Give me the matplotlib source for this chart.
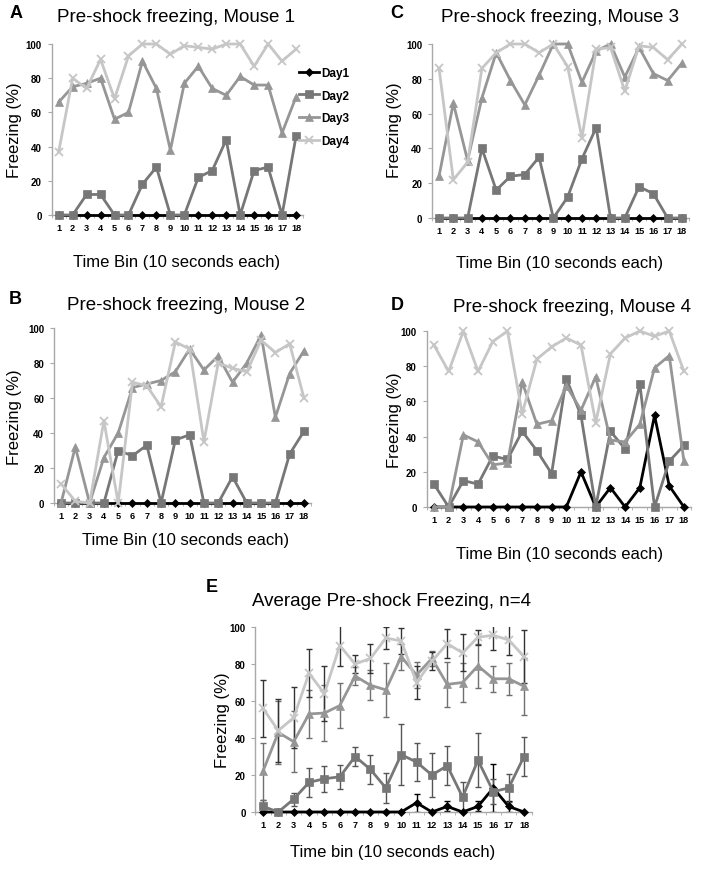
import matplotlib
matplotlib.use("Agg")
import matplotlib.pyplot as plt
from matplotlib import font_manager

# ---------------- data ----------------
bins = list(range(1, 19))
tick_labels = [str(b) for b in bins]
series_names = ["Day1", "Day2", "Day3", "Day4"]

# Mouse 1 (panel A)
m1_day1 = [0] * 18
m1_day2 = [0, 0, 12, 12, 0, 0, 18, 28, 0, 0, 22, 26, 44, 0, 26, 28, 0, 46]
m1_day3 = [66, 75, 77, 80, 56, 60, 90, 74, 38, 77, 87, 74, 70, 81, 76, 76, 48, 69]
m1_day4 = [37, 80, 74, 91, 68, 93, 100, 100, 94, 99, 98, 97, 100, 100, 87, 100, 90, 97]

# Mouse 2 (panel B)
m2_day1 = [0] * 18
m2_day2 = [0, 0, 0, 0, 30, 27, 33, 0, 36, 39, 0, 0, 15, 0, 0, 0, 28, 41]
m2_day3 = [0, 32, 0, 26, 40, 66, 68, 70, 75, 88, 76, 84, 69, 80, 96, 49, 74, 87]
m2_day4 = [11, 1, 0, 47, 0, 69, 67, 55, 92, 88, 35, 80, 77, 75, 93, 86, 91, 60]

# Mouse 3 (panel C)
m3_day1 = [0] * 18
m3_day2 = [0, 0, 0, 40, 16, 24, 25, 35, 0, 12, 34, 52, 0, 0, 18, 14, 0, 0]
m3_day3 = [24, 66, 33, 69, 95, 79, 65, 82, 100, 100, 78, 96, 100, 81, 98, 83, 79, 89]
m3_day4 = [86, 22, 32, 86, 95, 100, 100, 95, 100, 87, 46, 97, 98, 73, 99, 98, 91, 100]

# Mouse 4 (panel D)
m4_day1 = [0, 0, 0, 0, 0, 0, 0, 0, 0, 0, 20, 0, 11, 0, 11, 52, 12, 0]
m4_day2 = [13, 0, 15, 13, 29, 27, 43, 32, 19, 73, 52, 0, 43, 33, 70, 0, 26, 35]
m4_day3 = [0, 0, 41, 37, 24, 25, 71, 47, 49, 69, 55, 74, 38, 37, 47, 79, 86, 26]
m4_day4 = [92, 77, 100, 77, 94, 100, 53, 84, 91, 96, 92, 48, 87, 96, 100, 97, 100, 77]

# Average (panel E) and error bars
avg_day1 = [0, 0, 0, 0, 0, 0, 0, 0, 0, 0, 5, 0, 3, 0, 3, 13, 3, 0]
avg_day2 = [3, 0, 7, 16, 18, 19, 30, 23, 13, 31, 27, 20, 25, 8, 28, 11, 13, 30]
avg_day3 = [22, 43, 38, 53, 53.5, 57.5, 73.5, 68.5, 66, 84, 74, 83, 69, 70, 79, 72, 72, 68]
avg_day4 = [56, 44, 51, 75, 64, 90, 80, 83, 94, 92.5, 70, 81.5, 91, 86, 94.5, 95.5, 93, 84]
err_day1 = [0, 0, 0, 0, 0, 0, 0, 0, 0, 0, 5, 0, 2.7, 0, 2.7, 13, 3, 0]
err_day2 = [3.3, 0, 3.5, 8, 7, 6.5, 5, 8, 8, 16.5, 10.5, 12, 10.5, 8, 14.5, 6.7, 7.5, 10.5]
err_day3 = [15.5, 17, 16.4, 13, 15, 12, 5, 8, 14.5, 7, 7, 4, 12, 10.5, 12, 7, 8.5, 15.5]
err_day4 = [15.5, 17, 16.4, 13, 15, 11, 5, 8, 6, 7, 9, 5, 8, 10, 4, 8, 8, 14.5]

# ---------------- style ----------------
names = {f.name for f in font_manager.fontManager.ttflist}
NARROW = "Liberation Sans Narrow" if "Liberation Sans Narrow" in names else "Liberation Sans"
SANS = "Liberation Sans"

colors = ["#000000", "#777777", "#969696", "#c6c6c6"]
markers = ["D", "s", "^", "x"]
msizes = [4, 6, 5.5, 5.5]
ecolors = ["#000000", "#555555", "#707070", "#333333"]
SPINE = "#a8a8a8"

W, H = 701, 870
fig = plt.figure(figsize=(W / 100, H / 100), dpi=100)


def rect(l, r, t, b):
    return [l / W, 1 - b / H, (r - l) / W, (b - t) / H]


def ftext(x, y, s, **kw):
    fig.text(x / W, 1 - y / H, s, ha="center", va="center", **kw)


def style_axes(ax):
    ax.set_xlim(0.5, 18.5)
    ax.set_ylim(0, 100)
    for side in ["top", "right"]:
        ax.spines[side].set_visible(False)
    for side in ["left", "bottom"]:
        ax.spines[side].set_color(SPINE)
        ax.spines[side].set_linewidth(1.0)
    ax.set_yticks([0, 20, 40, 60, 80, 100])
    ax.set_xticks(bins)
    ax.set_xticklabels(tick_labels)
    ax.set_xticks([b + 0.5 for b in [0] + bins], minor=True)
    ax.tick_params(axis="x", which="major", length=0, pad=6)
    ax.tick_params(axis="x", which="minor", length=2.5, color=SPINE, direction="out")
    ax.tick_params(axis="y", length=3, color=SPINE, direction="out", pad=4)
    for lab in ax.get_xticklabels():
        lab.set_fontfamily(NARROW)
        lab.set_fontweight("bold")
        lab.set_fontsize(6.6)
    for lab in ax.get_yticklabels():
        lab.set_fontfamily(NARROW)
        lab.set_fontweight("bold")
        lab.set_fontsize(7)


def plot_panel(ax, data):
    handles = []
    for i, ys in enumerate(data):
        (h,) = ax.plot(bins, ys, color=colors[i], lw=2, marker=markers[i],
                       ms=msizes[i], mew=1.3 if markers[i] == "x" else 0.5,
                       mec=colors[i], mfc=colors[i], clip_on=False,
                       label=series_names[i], zorder=3 + i)
        handles.append(h)
    style_axes(ax)
    return handles


axA = fig.add_axes(rect(51.7, 303, 45, 216))
hA = plot_panel(axA, [m1_day1, m1_day2, m1_day3, m1_day4])
axC = fig.add_axes(rect(431.9, 689.1, 45, 219))
plot_panel(axC, [m3_day1, m3_day2, m3_day3, m3_day4])
axB = fig.add_axes(rect(53.9, 311.1, 329, 504))
plot_panel(axB, [m2_day1, m2_day2, m2_day3, m2_day4])
axD = fig.add_axes(rect(426.6, 691.3, 332, 508))
plot_panel(axD, [m4_day1, m4_day2, m4_day3, m4_day4])

axE = fig.add_axes(rect(255.3, 531.7, 628, 813))
avgs = [avg_day1, avg_day2, avg_day3, avg_day4]
errs = [err_day1, err_day2, err_day3, err_day4]
for i in range(4):
    axE.errorbar(bins, avgs[i], yerr=errs[i], fmt="none", ecolor=ecolors[i],
                 elinewidth=1.0, capsize=2.5, capthick=1.0, zorder=2)
plot_panel(axE, avgs)

leg = axA.legend(handles=hA, loc="upper left", bbox_to_anchor=(299 / W, 1 - 68 / H),
                 bbox_transform=fig.transFigure, frameon=False, handlelength=1.7,
                 handletextpad=0.2, labelspacing=0.9, borderaxespad=0, borderpad=0,
                 prop={"family": NARROW, "weight": "bold", "size": 8.5})
leg.set_clip_on(False)

# titles
TS = 13.5
ftext(176, 18, "Pre-shock freezing, Mouse 1", fontsize=TS, family=SANS)
ftext(560, 18, "Pre-shock freezing, Mouse 3", fontsize=TS, family=SANS)
ftext(186, 305, "Pre-shock freezing, Mouse 2", fontsize=TS, family=SANS)
ftext(572, 307, "Pre-shock freezing, Mouse 4", fontsize=TS, family=SANS)
ftext(391, 602, "Average Pre-shock Freezing, n=4", fontsize=TS, family=SANS)

# panel letters
LS = 13
ftext(16, 14, "A", fontsize=LS, family=SANS, weight="bold")
ftext(397, 14, "C", fontsize=LS, family=SANS, weight="bold")
ftext(15, 300, "B", fontsize=LS, family=SANS, weight="bold")
ftext(397, 306, "D", fontsize=LS, family=SANS, weight="bold")
ftext(212, 587, "E", fontsize=LS, family=SANS, weight="bold")

# y labels
YS = 12
for (x, y) in [(15, 130), (395, 130), (15, 417), (395, 420), (223, 720)]:
    ftext(x, y, "Freezing (%)", fontsize=YS, family=SANS, rotation=90)

# x labels
XS = 13.5 if NARROW != SANS else 12
for (x, y) in [(177, 262), (560, 264), (186, 541), (560, 555)]:
    ftext(x, y, "Time Bin (10 seconds each)", fontsize=XS, family=NARROW)
ftext(393, 853, "Time bin (10 seconds each)", fontsize=12, family=SANS)

fig.savefig("out.png", dpi=100)
